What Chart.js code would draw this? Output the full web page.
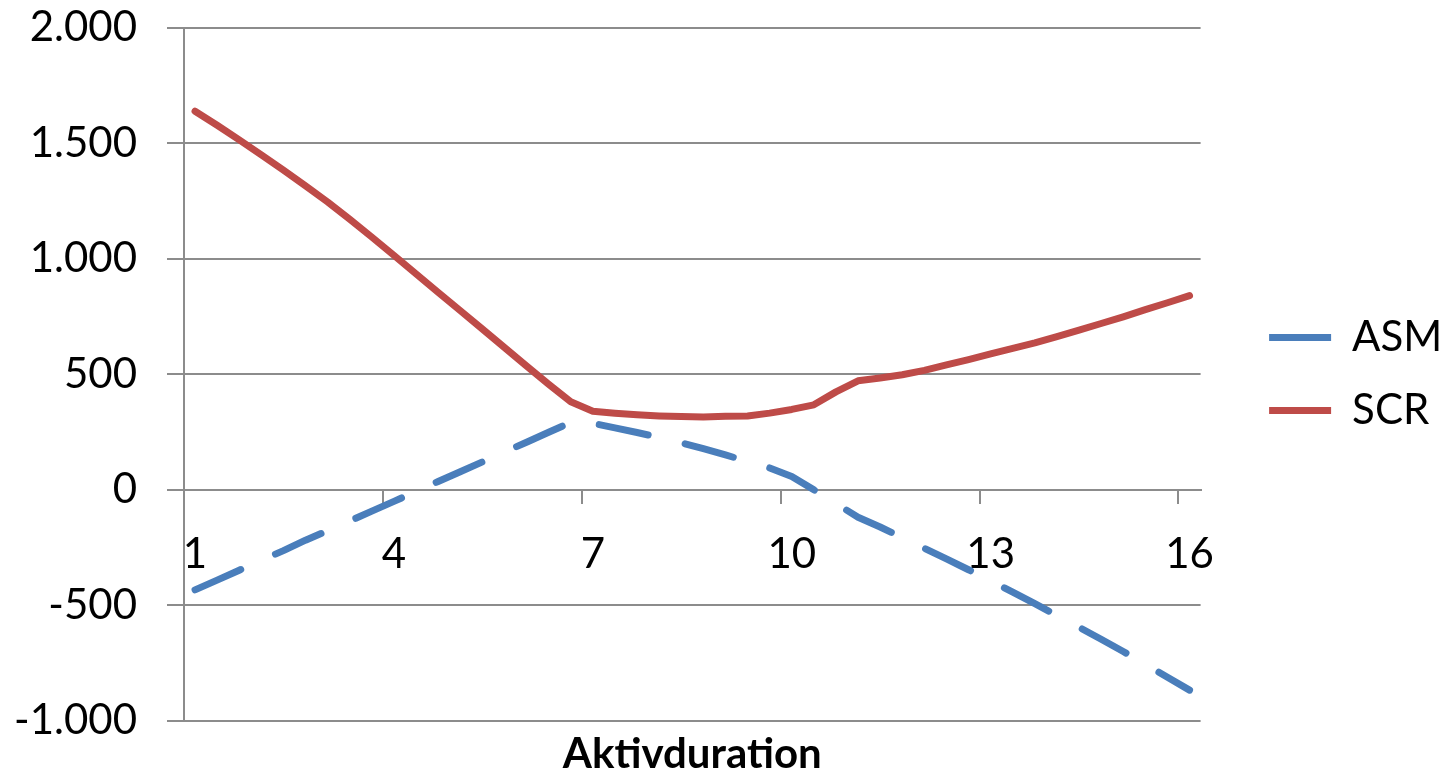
<!DOCTYPE html>
<html>
<head>
<meta charset="utf-8">
<style>
html,body{margin:0;padding:0;background:#ffffff;overflow:hidden}
canvas{display:block}
</style>
<script src="https://cdn.jsdelivr.net/npm/chart.js@4.4.1/dist/chart.umd.min.js"></script>
</head>
<body>
<canvas id="c" width="1445" height="777"></canvas>
<script>
// ---- data ----
const categories = [
  '1','1,33','1,67','2','2,33','2,67','3','3,33','3,67','4','4,33','4,67',
  '5','5,33','5,67','6','6,33','6,67','7','7,33','7,67','8','8,33','8,67',
  '9','9,33','9,67','10','10,33','10,67','11','11,33','11,67','12','12,33','12,67',
  '13','13,33','13,67','14','14,33','14,67','15','15,33','15,67','16'
];
const xTickLabels = ['1','4','7','10','13','16'];
const seriesNames = ['ASM','SCR'];
const asmValues = [
  -434,-392,-349,-306,-264,-219,-178,-136,-93,-51,
  -8,35,77,120,163,205,248,291,287,267,
  247,226,203,177,150,122,94,57,-1,-60,
  -120,-162,-208,-254,-300,-347,-395,-444,-494,-545,
  -596,-648,-701,-756,-812,-868
];
const scrValues = [
  1638,1577,1514,1449,1383,1315,1245,1170,1093,1014,
  934,854,775,695,615,535,456,380,339,331,
  324,319,316,314,317,319,331,347,367,423,
  471,483,497,516,540,563,588,611,635,662,
  690,719,748,779,809,840
];
const axisTitle = 'Aktivduration';
const yMin = -1000, yMax = 2000, yStep = 500;

function formatThousands(v) {
  const s = Math.abs(v).toString().replace(/\B(?=(\d{3})+(?!\d))/g, '.');
  return (v < 0 ? '-' : '') + s;
}

const GRID = '#8c8c8c';
const TRANSPARENT = 'rgba(0,0,0,0)';
Chart.defaults.font.family = 'Lato, "Open Sans", sans-serif';
Chart.defaults.color = '#000000';

new Chart(document.getElementById('c'), {
  type: 'line',
  data: {
    labels: categories,
    datasets: [
      {
        label: seriesNames[0],
        data: asmValues,
        borderColor: '#4A7EBB',
        backgroundColor: '#4A7EBB',
        borderWidth: 7,
        borderDash: [50, 38],
        borderCapStyle: 'round',
        borderJoinStyle: 'round',
        pointRadius: 0,
        pointHoverRadius: 0,
        tension: 0,
        fill: false
      },
      {
        label: seriesNames[1],
        data: scrValues,
        borderColor: '#BE4B48',
        backgroundColor: '#BE4B48',
        borderWidth: 7,
        borderCapStyle: 'round',
        borderJoinStyle: 'round',
        pointRadius: 0,
        pointHoverRadius: 0,
        tension: 0,
        fill: false
      }
    ]
  },
  options: {
    responsive: false,
    animation: false,
    devicePixelRatio: 1,
    events: [],
    layout: { padding: { top: 27.6, right: 0, bottom: 0, left: 0 } },
    scales: {
      x: {
        type: 'category',
        offset: true,
        position: { y: 0 },
        grid: {
          offset: true,
          drawOnChartArea: false,
          drawTicks: true,
          tickLength: 13,
          lineWidth: 2,
          color: GRID,
          tickColor: (ctx) => xTickLabels.includes(categories[ctx.index]) ? GRID : TRANSPARENT
        },
        border: { display: true, color: GRID, width: 2 },
        ticks: {
          autoSkip: false,
          maxRotation: 0,
          minRotation: 0,
          padding: 26.5,
          color: '#000000',
          font: { size: 42 },
          callback: (v, i) => xTickLabels.includes(categories[i]) ? categories[i] : ''
        }
      },
      y: {
        type: 'linear',
        position: 'left',
        min: yMin,
        max: yMax,
        ticks: {
          stepSize: yStep,
          padding: 30,
          color: '#000000',
          font: { size: 42 },
          callback: (v) => formatThousands(v)
        },
        grid: { color: GRID, lineWidth: 2, drawTicks: true, tickLength: 17 },
        border: { display: true, color: GRID, width: 2 },
        afterFit: (s) => { s.width = 184; s.paddingTop = 0; s.paddingBottom = 0; }
      },
      y2: {
        type: 'linear',
        position: 'right',
        display: true,
        grid: { display: false },
        border: { display: false },
        ticks: { display: false },
        afterFit: (s) => { s.width = 37.5; s.paddingTop = 0; s.paddingBottom = 0; }
      }
    },
    plugins: {
      legend: {
        display: true,
        position: 'right',
        fullSize: false,
        maxWidth: 206.9,
        labels: {
          usePointStyle: true,
          pointStyle: 'line',
          pointStyleWidth: 62,
          padding: 31,
          color: '#000000',
          font: { size: 42 }
        }
      },
      title: {
        display: true,
        position: 'bottom',
        fullSize: false,
        text: axisTitle,
        color: '#000000',
        font: { size: 42, weight: 'bold', lineHeight: 1 },
        padding: { top: 13, bottom: 1.4 }
      },
      tooltip: { enabled: false }
    }
  }
});
</script>
</body>
</html>
